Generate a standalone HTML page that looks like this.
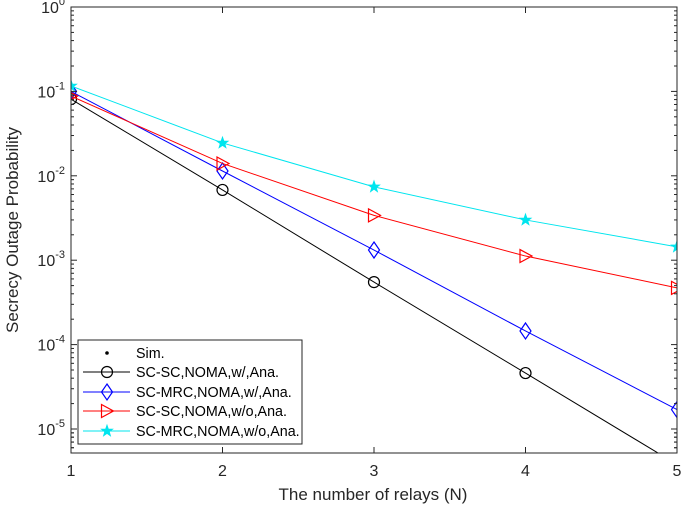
<!DOCTYPE html>
<html><head><meta charset="utf-8"><style>
body{margin:0;background:#fff;font-family:"Liberation Sans",Arial,sans-serif}
svg text{font-family:"Liberation Sans",Arial,sans-serif}
</style></head><body>
<svg id="chart" width="685" height="506" viewBox="0 0 685 506" xmlns="http://www.w3.org/2000/svg">
<rect x="0" y="0" width="685" height="506" fill="#fff"/>
<g id="grid"></g>
<g id="series"></g>
<g id="axes"></g>
<g id="legend"></g>
</svg>
<script>
const relays = [1, 2, 3, 4, 5];
const scScW = [0.081, 0.0068, 5.5e-4, 4.6e-5, 3.8e-6];
const scMrcW = [0.10, 0.0114, 1.32e-3, 1.45e-4, 1.7e-5];
const scScWo = [0.088, 0.014, 3.4e-3, 1.12e-3, 4.7e-4];
const scMrcWo = [0.116, 0.0245, 7.4e-3, 3.0e-3, 1.44e-3];
const xTicks = [1, 2, 3, 4, 5];
const yDecades = [0, -1, -2, -3, -4, -5];
const seriesNames = ["SC-SC,NOMA,w/,Ana.", "SC-MRC,NOMA,w/,Ana.", "SC-SC,NOMA,w/o,Ana.", "SC-MRC,NOMA,w/o,Ana."];

const L=71,R=677,T=7,B=453,DEC=84.4;
const NS="http://www.w3.org/2000/svg";
function xs(v){return L+(v-1)*(R-L)/4;}
function ys(v){return T-Math.log10(v)*DEC;}
function mk(tag,attrs,parent){const e=document.createElementNS(NS,tag);for(const k in attrs)e.setAttribute(k,attrs[k]);parent.appendChild(e);return e;}
const axes=document.getElementById('axes'),ser=document.getElementById('series'),leg=document.getElementById('legend');
const clip=mk('clipPath',{id:'pc'},document.getElementById('chart'));
mk('rect',{x:L,y:T,width:R-L,height:B-T},clip);

const frame=mk('rect',{x:L,y:T,width:R-L,height:B-T,fill:'none',stroke:'#262626','stroke-width':1},axes);


xTicks.forEach(v=>{
  const x=xs(v);
  mk('line',{x1:x,y1:B,x2:x,y2:B-6,stroke:'#262626'},axes);
  mk('line',{x1:x,y1:T,x2:x,y2:T+6,stroke:'#262626'},axes);
  const t=mk('text',{x:x,y:B+23,'text-anchor':'middle','font-size':16,fill:'#262626'},axes);
  t.textContent=v;
  
  
});
yDecades.forEach(d=>{
  const y=ys(Math.pow(10,d));
  mk('line',{x1:L,y1:y,x2:L+6,y2:y,stroke:'#262626'},axes);
  mk('line',{x1:R,y1:y,x2:R-6,y2:y,stroke:'#262626'},axes);
  const t=mk('text',{x:L-6,y:y+6,'text-anchor':'end','font-size':16,fill:'#262626'},axes);
  t.innerHTML='10<tspan dy="-8" font-size="11">'+d+'</tspan>';
  
  
  for(let m=2;m<=9;m++){
    const yy=ys(m*Math.pow(10,d-1));
    if(yy>B||yy<T)continue;
    mk('line',{x1:L,y1:yy,x2:L+3,y2:yy,stroke:'#262626'},axes);
    mk('line',{x1:R,y1:yy,x2:R-3,y2:yy,stroke:'#262626'},axes);
  }
});
for(let m=5;m<=9;m++){const yy=ys(m*1e-6);if(yy<=B){mk('line',{x1:L,y1:yy,x2:L+3,y2:yy,stroke:'#262626'},axes);mk('line',{x1:R,y1:yy,x2:R-3,y2:yy,stroke:'#262626'},axes);}}
const xl=mk('text',{x:373,y:500,'text-anchor':'middle','font-size':17,fill:'#262626'},axes);
xl.textContent='The number of relays (N)';


const yl=mk('text',{x:0,y:0,'text-anchor':'middle','font-size':17,fill:'#262626',transform:'translate(18,230) rotate(-90)'},axes);
yl.textContent='Secrecy Outage Probability';



function marker(type,x,y,color,g){
  if(type==='o')mk('circle',{cx:x,cy:y,r:5.5,fill:'none',stroke:color,'stroke-width':1.2},g);
  else if(type==='d')mk('polygon',{points:`${x},${y-8} ${x+5.5},${y} ${x},${y+8} ${x-5.5},${y}`,fill:'none',stroke:color,'stroke-width':1.2},g);
  else if(type==='>')mk('polygon',{points:`${x-5.5},${y-6.5} ${x+6.5},${y} ${x-5.5},${y+6.5}`,fill:'none',stroke:color,'stroke-width':1.2},g);
  else if(type==='*'){let p=[];for(let i=0;i<10;i++){const a=-Math.PI/2+i*Math.PI/5,r=i%2?2.4:6;p.push((x+r*Math.cos(a)).toFixed(1)+','+(y+r*Math.sin(a)).toFixed(1));}mk('polygon',{points:p.join(' '),fill:color,stroke:color,'stroke-width':0.8},g);}
}
const defs=[[scScW,'#000','o','sc-sc-with'],[scMrcW,'#0000ff','d','sc-mrc-with'],[scScWo,'#ff0000','>','sc-sc-without'],[scMrcWo,'#00e5ee','*','sc-mrc-without']];
defs.forEach(([vals,c,m,n])=>{
  const g=mk('g',{'clip-path':'url(#pc)'},ser);
  
  
  mk('polyline',{points:vals.map((v,i)=>xs(relays[i])+','+ys(v)).join(' '),fill:'none',stroke:c,'stroke-width':1},g);
  vals.forEach((v,i)=>marker(m,xs(relays[i]),ys(v),c,g));
});
const lb=mk('rect',{x:78,y:340,width:224,height:104,fill:'#fff',stroke:'#262626','stroke-width':1},leg);


const rows=[353,372,392,411,431];
mk('circle',{cx:107,cy:rows[0],r:1.8,fill:'#000'},leg);
let st=mk('text',{x:136,y:rows[0]+5,'font-size':14.3,fill:'#000'},leg);st.textContent='Sim.';


defs.forEach(([v,c,m],i)=>{
  const y=rows[i+1];
  mk('line',{x1:83,y1:y,x2:130,y2:y,stroke:c,'stroke-width':1},leg);
  marker(m,107,y,c,leg);
  const t=mk('text',{x:136,y:y+5,'font-size':14.3,fill:'#000'},leg);
  t.textContent=seriesNames[i];
  
  
});
</script>
</body></html>
